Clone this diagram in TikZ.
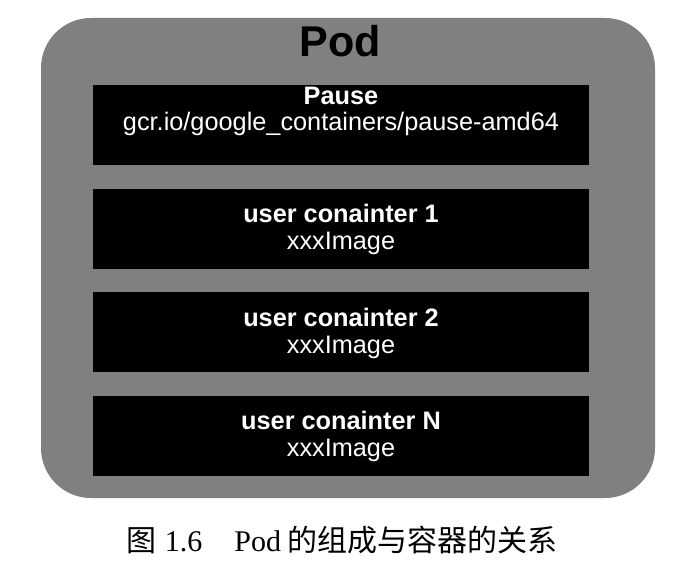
\documentclass[tikz,border=0pt]{standalone}
\usepackage{fontspec}
\setmainfont{Liberation Sans}
\newfontfamily\capfont{Liberation Serif}
\newfontfamily\cjk{Noto Sans CJK SC}
\usepackage{xcolor}
\usepackage{tikz}

\begin{document}
\begin{tikzpicture}[x=1pt,y=1pt,node distance=103.5pt]
\tikzstyle{pod}=[rectangle,rounded corners=50pt,fill=black!50,minimum width=614pt,minimum height=480pt]
\tikzstyle{ctr}=[rectangle,fill=black,minimum width=496pt,minimum height=80pt]
\tikzstyle{head}=[text=white,anchor=base,inner sep=0pt,font=\bfseries\fontsize{25.3}{29}\selectfont]
\tikzstyle{img}=[text=white,anchor=base,inner sep=0pt,font=\fontsize{25.3}{29}\selectfont]
\useasboundingbox (0,0) rectangle (687,582);
\node[pod] (pod) at (348,324) {};
\node[anchor=base,inner sep=0pt,font=\bfseries\fontsize{43}{48}\selectfont] (podt) at (340,525) {Pod};
% containers
\node[ctr] (pause) at (341,457) {};
\node[ctr,below of=pause] (c1) {};
\node[ctr,below of=c1] (c2) {};
\node[ctr,below of=c2] (cn) {};
\node[head] (pauset) at ([yshift=20pt]pause.center) {Pause};
\node[img] (pausei) at ([yshift=-6pt]pause.center) {gcr.io/google\_containers/pause-amd64};
\node[head] (c1t) at ([yshift=6pt]c1.center) {user conainter 1};
\node[img] (c1i) at ([yshift=-21pt]c1.center) {xxxImage};
\node[head] (c2t) at ([yshift=6pt]c2.center) {user conainter 2};
\node[img] (c2i) at ([yshift=-21pt]c2.center) {xxxImage};
\node[head] (cnt) at ([yshift=6pt]cn.center) {user conainter N};
\node[img] (cni) at ([yshift=-21pt]cn.center) {xxxImage};
% caption
\node[anchor=base,inner sep=0pt,font=\capfont\fontsize{30}{36}\selectfont] (cap) at (342,31)
  {{\cjk 图}\hspace{8pt}1.6\hspace{32pt}Pod\hspace{6pt}{\cjk 的组成与容器的关系}};
\end{tikzpicture}
\end{document}
